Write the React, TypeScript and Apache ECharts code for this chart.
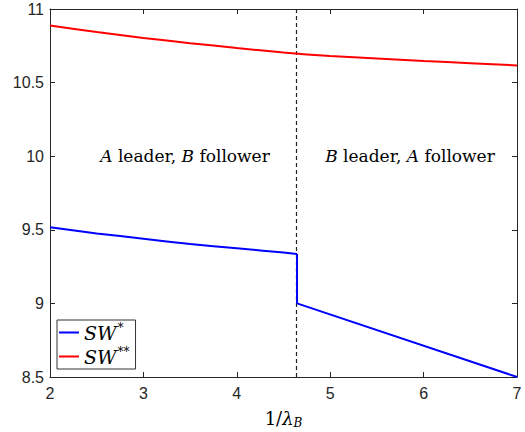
import React, { useEffect, useRef } from "react";
import * as echarts from "echarts";

// 1/lambda_B sample points and the two social-welfare curves
const xSmooth = [2, 2.5, 3, 3.5, 4, 4.5, 5, 5.5, 6, 6.5, 7];
const swStarStar = [10.888, 10.843, 10.803, 10.768, 10.735, 10.704, 10.68, 10.664, 10.647, 10.632, 10.617];

const xLeaderA = [2, 2.5, 3, 3.5, 4, 4.5, 4.645];
const swStarA = [9.517, 9.475, 9.44, 9.403, 9.375, 9.345, 9.336];
const xLeaderB = [4.645, 7];
const swStarB = [9.0, 8.5];

// regime switch
const switchX = 4.645;

const xTicks = { min: 2, max: 7, interval: 1 };
const yTicks = { min: 8.5, max: 11, interval: 0.5 };

const labelLeft = "{i|A} leader, {i|B} follower";
const labelRight = "{i|B} leader, {i|A} follower";

const legendNames: Record<string, string> = {
  "SW*": "{m|SW}{s|*}",
  "SW**": "{m|SW}{s|**}",
};

const axisColor = "#262626";
const serif = "'DejaVu Serif', 'Liberation Serif', serif";
const sans = "'Liberation Sans', Arial, Helvetica, sans-serif";

export default function App() {
  const ref = useRef<HTMLDivElement>(null);

  useEffect(() => {
    if (!ref.current) return;
    document.body.style.margin = "0";
    document.body.style.overflow = "hidden";
    const chart = echarts.init(ref.current, undefined, { renderer: "svg" });

    // A-leader branch (smooth), then the jump and the B-leader branch (straight)
    const blueCurve = xLeaderA.map((x, i) => [x, swStarA[i]]);
    const blueJump = [
      [xLeaderA[xLeaderA.length - 1], swStarA[swStarA.length - 1]],
      ...xLeaderB.map((x, i) => [x, swStarB[i]]),
    ];
    const redData = xSmooth.map((x, i) => [x, swStarStar[i]]);

    const boxAxis = {
      axisLine: { show: true, lineStyle: { color: axisColor, width: 1 } },
      axisTick: { show: true, inside: true, length: 5, lineStyle: { color: axisColor } },
      splitLine: { show: false },
    };

    const annoSize = 17;
    const annoRich = {
      i: { fontStyle: "italic" as const, fontFamily: serif, fontSize: annoSize, fill: "#000" },
    };

    const blueLine = {
      name: "SW*",
      type: "line",
      showSymbol: false,
      symbol: "none",
      lineStyle: { color: "#0000ff", width: 2 },
      itemStyle: { color: "#0000ff" },
      z: 3,
    };

    chart.setOption({
      animation: false,
      backgroundColor: "#fff",
      grid: { left: 50, right: 8, top: 9, bottom: 55, containLabel: false, outerBoundsMode: "none" },
      xAxis: [
        {
          type: "value",
          ...xTicks,
          position: "bottom",
          ...boxAxis,
          axisLabel: { color: axisColor, fontFamily: sans, fontSize: 16, margin: 8 },
          name: "{n|1/}{l|λ}{b|B}",
          nameLocation: "middle",
          nameGap: 31,
          nameTextStyle: {
            rich: {
              n: { fontFamily: serif, fontSize: 18, color: "#000" },
              l: { fontFamily: serif, fontSize: 18, fontStyle: "italic", color: "#000" },
              b: { fontFamily: serif, fontSize: 12, fontStyle: "italic", color: "#000", padding: [9, 0, 0, 0] },
            },
          },
        },
        {
          type: "value",
          ...xTicks,
          position: "top",
          ...boxAxis,
          axisLabel: { show: false },
        },
      ],
      yAxis: [
        {
          type: "value",
          ...yTicks,
          position: "left",
          ...boxAxis,
          axisLabel: { color: axisColor, fontFamily: sans, fontSize: 16, margin: 6 },
        },
        {
          type: "value",
          ...yTicks,
          position: "right",
          ...boxAxis,
          axisLabel: { show: false },
        },
      ],
      legend: {
        left: 57,
        top: 320,
        orient: "vertical",
        backgroundColor: "#fff",
        borderColor: "#333",
        borderWidth: 1,
        borderRadius: 0,
        padding: [2, 6, 2, 2],
        itemGap: 3,
        itemWidth: 20,
        itemHeight: 2,
        icon: "rect",
        data: ["SW*", "SW**"],
        formatter: (name: string) => legendNames[name] ?? name,
        textStyle: {
          color: "#000",
          rich: {
            m: { fontFamily: serif, fontStyle: "italic", fontSize: 19, color: "#000", lineHeight: 21 },
            s: { fontFamily: serif, fontStyle: "italic", fontSize: 12, color: "#000", padding: [0, 0, 9, 1], lineHeight: 21 },
          },
        },
      },
      series: [
        {
          ...blueLine,
          data: blueCurve,
          smooth: 0.2,
          markLine: {
            silent: true,
            symbol: "none",
            label: { show: false },
            lineStyle: { color: "#222", type: [4, 3], width: 1.2 },
            data: [{ xAxis: switchX }],
            z: 2,
          },
        },
        {
          ...blueLine,
          data: blueJump,
        },
        {
          name: "SW**",
          type: "line",
          data: redData,
          showSymbol: false,
          symbol: "none",
          smooth: 0.2,
          lineStyle: { color: "#ff0000", width: 2 },
          itemStyle: { color: "#ff0000" },
          z: 3,
        },
      ],
      graphic: [
        {
          type: "text",
          x: 185,
          y: 156,
          style: {
            text: labelLeft,
            fontFamily: serif,
            fontSize: annoSize,
            fill: "#000",
            align: "center",
            verticalAlign: "middle",
            rich: annoRich,
          },
        },
        {
          type: "text",
          x: 410,
          y: 156,
          style: {
            text: labelRight,
            fontFamily: serif,
            fontSize: annoSize,
            fill: "#000",
            align: "center",
            verticalAlign: "middle",
            rich: annoRich,
          },
        },
      ],
    });

    return () => chart.dispose();
  }, []);

  return <div ref={ref} style={{ width: 525, height: 432, overflow: "hidden" }} />;
}
